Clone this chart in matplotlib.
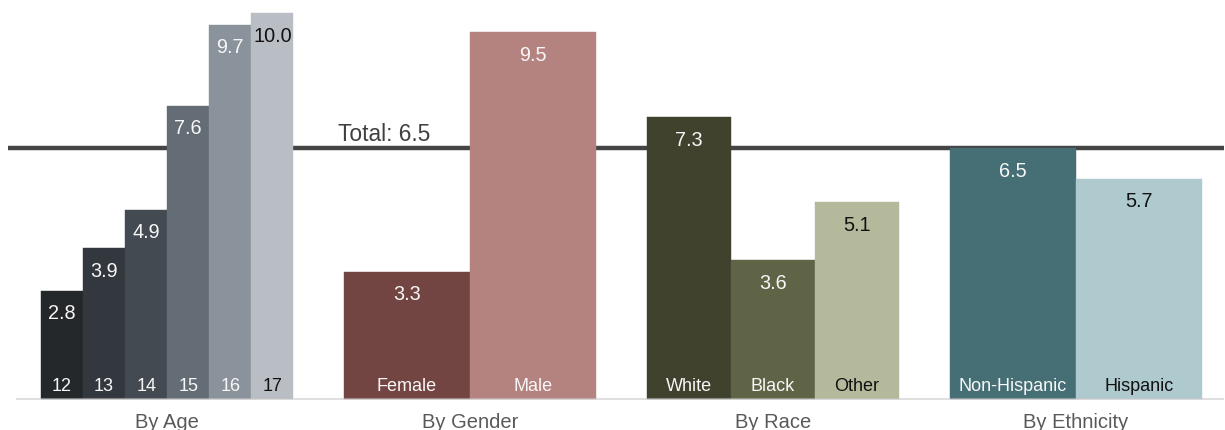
import matplotlib
matplotlib.use('Agg')
import matplotlib.pyplot as plt
from matplotlib.colors import to_rgb

# ---- data -------------------------------------------------------------
group_names = ['By Age', 'By Gender', 'By Race', 'By Ethnicity']

age_labels = ['12', '13', '14', '15', '16', '17']
age_values = [2.8, 3.9, 4.9, 7.6, 9.7, 10.0]

gender_labels = ['Female', 'Male']
gender_values = [3.3, 9.5]

race_labels = ['White', 'Black', 'Other']
race_values = [7.3, 3.6, 5.1]

ethnicity_labels = ['Non-Hispanic', 'Hispanic']
ethnicity_values = [6.5, 5.7]

total_value = 6.5

# ---- colours ----------------------------------------------------------
age_colors = ['#24282b', '#33383e', '#434a52', '#646d76', '#8a939b', '#b9bdc4']
gender_colors = ['#734542', '#b5837f']
race_colors = ['#40422e', '#5f6447', '#b4b99c']
ethnicity_colors = ['#466f75', '#afcacf']

groups = [
    (age_labels, age_values, age_colors),
    (gender_labels, gender_values, gender_colors),
    (race_labels, race_values, race_colors),
    (ethnicity_labels, ethnicity_values, ethnicity_colors),
]

plt.rcParams['font.family'] = ['Liberation Sans', 'DejaVu Sans']

fig = plt.figure(figsize=(12.25, 4.31), dpi=100)
ax = fig.add_axes([0, 0, 1, 1])
ax.set_axis_off()

GROUP_W = 1.0      # every group spans the same width
GROUP_STEP = 1.2   # distance between group starts
ax.set_xlim(-0.1624, 4.691)
ax.set_ylim(-0.803, 10.363)


def text_color(c):
    r, g, b = to_rgb(c)
    lum = 0.299 * r + 0.587 * g + 0.114 * b
    return '#111111' if lum > 0.65 else '#f7f7f7'


# overall reference line (behind the bars)
ax.hlines(total_value, -0.131, 4.687, color='#444444', linewidth=3.2, zorder=1)

for gi, (labels, values, colors) in enumerate(groups):
    start = gi * GROUP_STEP
    n = len(values)
    w = GROUP_W / n
    xs = [start + i * w for i in range(n)]
    ax.bar(xs, values, width=w, align='edge', color=colors,
           edgecolor=colors, linewidth=0.3, zorder=2)
    for x, v, lab, c in zip(xs, values, labels, colors):
        tc = text_color(c)
        ax.annotate(f'{v:.1f}', (x + w / 2, v), xytext=(0, -19.8),
                    textcoords='offset points', ha='center', va='baseline',
                    fontsize=14.3, color=tc, zorder=4)
        ax.annotate(lab, (x + w / 2, 0), xytext=(0, 6.7),
                    textcoords='offset points', ha='center', va='baseline',
                    fontsize=13, color=tc, zorder=4)
    ax.annotate(group_names[gi], (start + GROUP_W / 2, 0), xytext=(0, -20.4),
                textcoords='offset points', ha='center', va='baseline',
                fontsize=14.5, color='#595959')

# baseline
ax.hlines(0, -0.099, 4.687, color='#c6c6c6', alpha=0.55, linewidth=1.5, zorder=3)

# total label, just left of the gender group
ax.annotate(f'Total: {total_value}', (GROUP_STEP - 0.024, total_value),
            xytext=(0, 5.6), textcoords='offset points', ha='left',
            va='baseline', fontsize=16.4, color='#404040', zorder=4)

fig.savefig('out.png', dpi=100)
